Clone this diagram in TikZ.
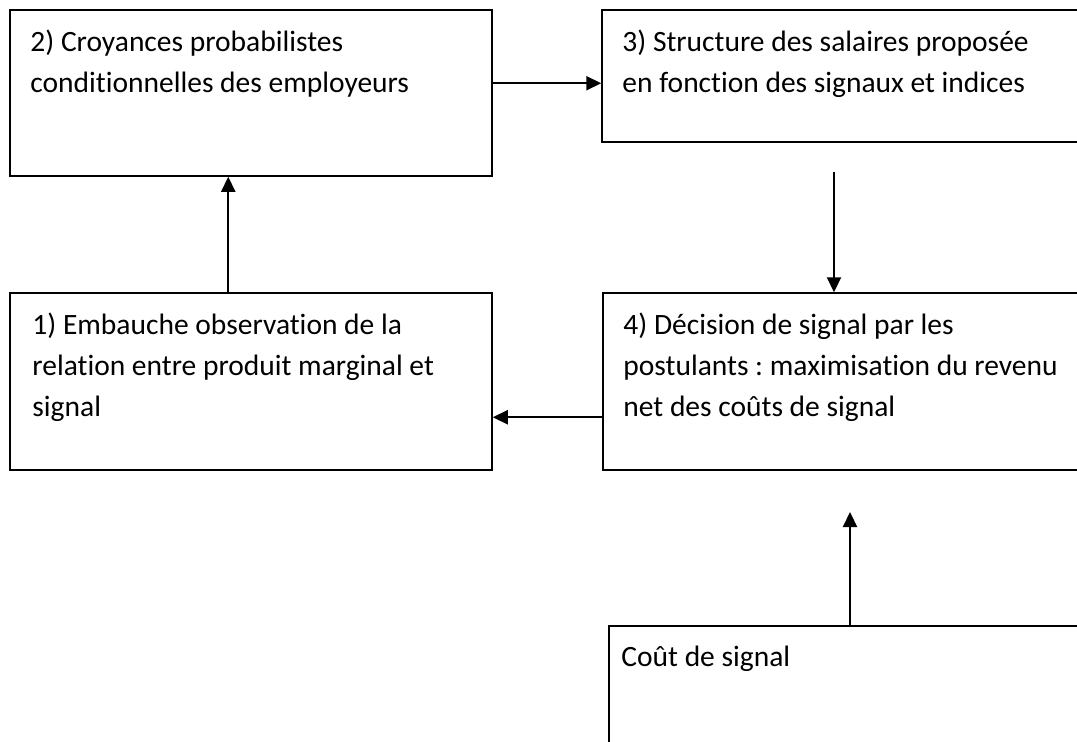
\documentclass[tikz,border=0pt]{standalone}
\usepackage{fontspec}
\setmainfont{Carlito}[Ligatures=NoCommon]
\usetikzlibrary{arrows.meta}
\frenchspacing

\tikzset{
  box/.style={draw, line width=1.5pt, rectangle, inner sep=0pt},
  lbl/.style={anchor=base west, inner sep=0pt, font=\fontsize{29.5}{41}\selectfont},
  link/.style={line width=2.2pt, -{Triangle[length=15pt,width=14pt]}}
}

\begin{document}
\begin{tikzpicture}[x=1pt, y=-1pt]
  \useasboundingbox (0,0) rectangle (1077,742);
  \clip (0,0) rectangle (1077,742);

  % boxes (the right-hand column runs past the page edge)
  \node[box, minimum width=482pt, minimum height=166pt] (b2) at (251,93) {};
  \node[box, minimum width=488pt, minimum height=132pt] (b3) at (846,76) {};
  \node[box, minimum width=482pt, minimum height=177pt] (b1) at (251,381.5) {};
  \node[box, minimum width=487pt, minimum height=177pt] (b4) at (846.5,381.5) {};
  \node[box, minimum width=481pt, minimum height=134pt] (cost) at (849.5,693) {};

  % box texts
  \node[lbl] at ([shift={(21pt,-42pt)}]b2.north west)
    {\parbox[t]{460pt}{2) Croyances probabilistes\\conditionnelles des employeurs}};
  \node[lbl] at ([shift={(21pt,-42pt)}]b3.north west)
    {\parbox[t]{460pt}{3) Structure des salaires proposée\\en fonction des signaux et indices}};
  \node[lbl] at ([shift={(23pt,-42pt)}]b1.north west)
    {\parbox[t]{460pt}{1) Embauche observation de la\\relation entre produit marginal et\\signal}};
  \node[lbl] at ([shift={(21pt,-42pt)}]b4.north west)
    {\parbox[t]{460pt}{4) Décision de signal par les\\postulants : maximisation du revenu\\net des coûts de signal}};
  \node[lbl] at ([shift={(13pt,-41pt)}]cost.north west)
    {\parbox[t]{440pt}{Coût de signal}};

  % connectors
  \coordinate (d0) at (834,172);
  \coordinate (u1) at (850,512);
  \draw[link] ([xshift=219pt]b1.north west) -- ([xshift=219pt]b2.south west);
  \draw[link] ([yshift=-74pt]b2.north east) -- ([yshift=-74pt]b3.north west);
  \draw[link] (d0) -- (d0 |- b4.north);
  \draw[link] ([yshift=-125pt]b4.north west) -- ([yshift=-125pt]b1.north east);
  \draw[link] (cost.north -| u1) -- (u1);
\end{tikzpicture}
\end{document}
